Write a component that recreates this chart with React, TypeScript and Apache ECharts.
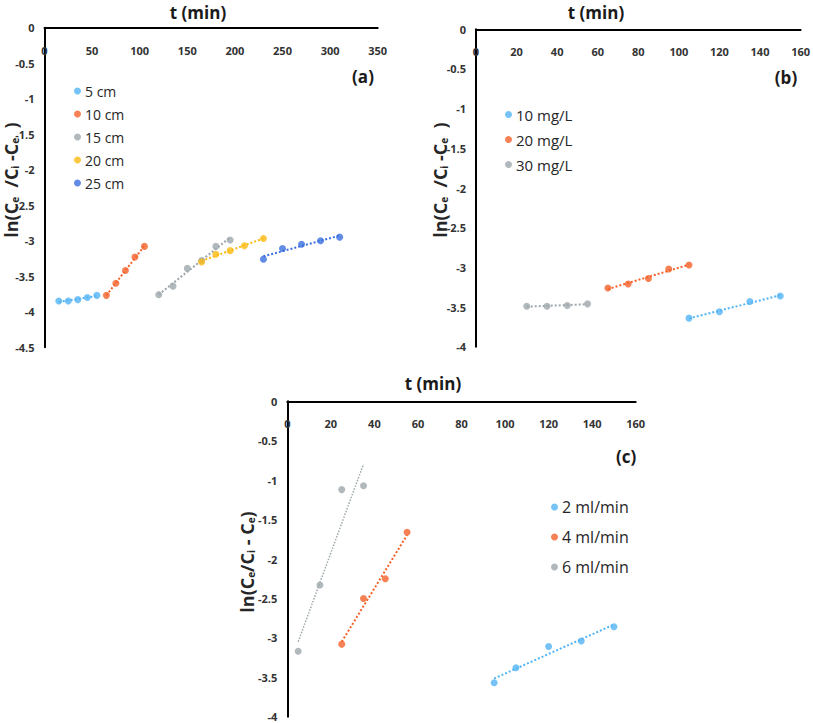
import React, { useEffect, useRef } from "react";
import * as echarts from "echarts";

// ---------- data ----------
// Panel (a): bed height
const tA5 = [15, 25, 35, 45, 55];
const yA5 = [-3.85, -3.85, -3.83, -3.8, -3.77];
const tA10 = [65, 75, 85, 95, 105];
const yA10 = [-3.77, -3.6, -3.42, -3.23, -3.08];
const tA15 = [120, 135, 150, 165, 180, 195];
const yA15 = [-3.76, -3.64, -3.39, -3.28, -3.08, -2.99];
const tA20 = [165, 180, 195, 210, 230];
const yA20 = [-3.3, -3.19, -3.14, -3.07, -2.97];
const tA25 = [230, 250, 270, 290, 310];
const yA25 = [-3.26, -3.11, -3.05, -3.0, -2.95];
const namesA = ["5 cm", "10 cm", "15 cm", "20 cm", "25 cm"];

// Panel (b): initial concentration
const tB10 = [105, 120, 135, 150];
const yB10 = [-3.64, -3.56, -3.43, -3.36];
const tB20 = [65, 75, 85, 95, 105];
const yB20 = [-3.26, -3.21, -3.14, -3.02, -2.97];
const tB30 = [25, 35, 45, 55];
const yB30 = [-3.49, -3.49, -3.48, -3.46];
const namesB = ["10 mg/L", "20 mg/L", "30 mg/L"];

// Panel (c): flow rate
const tC2 = [95, 105, 120, 135, 150];
const yC2 = [-3.57, -3.38, -3.11, -3.04, -2.86];
const tC4 = [25, 35, 45, 55];
const yC4 = [-3.08, -2.5, -2.25, -1.66];
const tC6 = [5, 15, 25, 35];
const yC6 = [-3.17, -2.33, -1.12, -1.07];
const namesC = ["2 ml/min", "4 ml/min", "6 ml/min"];

const xTitle = "t (min)";
const panelTags = ["(a)", "(b)", "(c)"];

const C_LBLUE = "#52b4f5";
const C_ORANGE = "#f4622a";
const C_GRAY = "#9ea8ad";
const C_YELLOW = "#fdba12";
const C_BLUE = "#3a6fe0";

const FONT = "'Open Sans', sans-serif";

// least-squares linear trendline over the data's own range
function trend(xs: number[], ys: number[]) {
  const n = xs.length;
  const mx = xs.reduce((a, b) => a + b, 0) / n;
  const my = ys.reduce((a, b) => a + b, 0) / n;
  let sxy = 0;
  let sxx = 0;
  for (let i = 0; i < n; i++) {
    sxy += (xs[i] - mx) * (ys[i] - my);
    sxx += (xs[i] - mx) * (xs[i] - mx);
  }
  const k = sxy / sxx;
  const x0 = Math.min(...xs);
  const x1 = Math.max(...xs);
  return [
    [x0, my + k * (x0 - mx)],
    [x1, my + k * (x1 - mx)],
  ];
}

function pts(xs: number[], ys: number[]) {
  return xs.map((x, i) => [x, ys[i]]);
}

function pair(idx: number, name: string, xs: number[], ys: number[], color: string, lineWidth = 2) {
  return [
    {
      type: "line",
      name: "trend-" + name,
      xAxisIndex: idx,
      yAxisIndex: idx,
      data: trend(xs, ys),
      showSymbol: false,
      symbol: "none",
      silent: true,
      z: 2,
      lineStyle: { color, width: lineWidth, type: "dotted" },
    },
    {
      type: "scatter",
      name,
      xAxisIndex: idx,
      yAxisIndex: idx,
      data: pts(xs, ys),
      symbol: "circle",
      symbolSize: 7,
      z: 3,
      itemStyle: { color },
    },
  ];
}

const richName = {
  m: { fontSize: 18, fontWeight: "bold", fontFamily: FONT, fill: "#262626", color: "#262626" },
  s: {
    fontSize: 10,
    fontWeight: "bold",
    fontFamily: FONT,
    fill: "#262626",
    color: "#262626",
    verticalAlign: "bottom",
  },
};

const axisLabelStyle = { fontSize: 11, fontWeight: "bold", fontFamily: FONT, color: "#333" };

function xAxis(gridIndex: number, max: number, interval: number) {
  return {
    type: "value",
    gridIndex,
    min: 0,
    max,
    interval,
    position: "top",
    axisLine: { show: true, onZero: false, lineStyle: { color: "#000", width: 2 } },
    axisTick: { show: false },
    splitLine: { show: false },
    axisLabel: { ...axisLabelStyle, inside: true, margin: 17 },
  };
}

function yAxis(gridIndex: number, min: number) {
  return {
    type: "value",
    gridIndex,
    min,
    max: 0,
    interval: 0.5,
    position: "left",
    axisLine: { show: true, onZero: false, lineStyle: { color: "#000", width: 2 } },
    axisTick: { show: false },
    splitLine: { show: false },
    axisLabel: { ...axisLabelStyle, margin: 10 },
  };
}

function legend(data: string[], left: number, top: number, gap: number, fontSize: number) {
  return {
    data: data.map((n) => ({ name: n, icon: "circle" })),
    orient: "vertical",
    left,
    top,
    itemGap: gap,
    itemWidth: 7,
    itemHeight: 7,
    selectedMode: false,
    padding: 0,
    textStyle: { fontSize, fontFamily: FONT, color: "#262626", padding: [0, 0, 0, -1] },
  };
}

function label(text: string, x: number, y: number, size = 17) {
  return {
    type: "text",
    x,
    y,
    silent: true,
    style: {
      text,
      fill: "#1a1a1a",
      font: `bold ${size}px ${FONT}`,
      align: "center",
      verticalAlign: "middle",
    },
  };
}

function yTitle(text: string, x: number, y: number) {
  return {
    type: "text",
    x,
    y,
    rotation: Math.PI / 2,
    silent: true,
    style: {
      text,
      rich: richName,
      fill: "#262626",
      align: "center",
      verticalAlign: "middle",
    },
  };
}

export default function App() {
  const ref = useRef<HTMLDivElement>(null);

  useEffect(() => {
    if (!ref.current) return;
    const chart = echarts.init(ref.current, undefined, { renderer: "svg" });

    const option = {
      animation: false,
      backgroundColor: "#ffffff",
      grid: [
        { left: 44.5, top: 27.7, width: 333.2, height: 319.5 },
        { left: 476, top: 29.3, width: 327.3, height: 317.4 },
        { left: 287.3, top: 401.3, width: 348.4, height: 315.4 },
      ],
      xAxis: [xAxis(0, 350, 50), xAxis(1, 160, 20), xAxis(2, 160, 20)],
      yAxis: [yAxis(0, -4.5), yAxis(1, -4), yAxis(2, -4)],
      legend: [
        legend(namesA, 74, 84, 9, 14),
        legend(namesB, 505, 107, 10, 15),
        legend(namesC, 551, 499, 14, 16),
      ],
      graphic: [
        label(xTitle, 198, 12),
        label(xTitle, 596, 12),
        label(xTitle, 433, 383),
        label(panelTags[0], 363, 76),
        label(panelTags[1], 786, 77),
        label(panelTags[2], 626, 456),
        yTitle("{m|ln(C}{s|e}{m|  /C}{s|i}{m| -C}{s|e}{m|  )}", 11, 180),
        yTitle("{m|ln(C}{s|e}{m|  /C}{s|i}{m| -C}{s|e}{m|  )}", 440, 180),
        yTitle("{m|ln(C}{s|e}{m|/C}{s|i}{m| - C}{s|e}{m|)}", 247, 562),
      ],
      series: [
        ...pair(0, namesA[0], tA5, yA5, C_LBLUE),
        ...pair(0, namesA[1], tA10, yA10, C_ORANGE),
        ...pair(0, namesA[2], tA15, yA15, C_GRAY),
        ...pair(0, namesA[3], tA20, yA20, C_YELLOW),
        ...pair(0, namesA[4], tA25, yA25, C_BLUE),
        ...pair(1, namesB[0], tB10, yB10, C_LBLUE),
        ...pair(1, namesB[1], tB20, yB20, C_ORANGE),
        ...pair(1, namesB[2], tB30, yB30, C_GRAY),
        ...pair(2, namesC[0], tC2, yC2, C_LBLUE),
        ...pair(2, namesC[1], tC4, yC4, C_ORANGE),
        ...pair(2, namesC[2], tC6, yC6, C_GRAY, 1.5),
      ],
    };

    chart.setOption(option as any);
    return () => chart.dispose();
  }, []);

  return (
    <div
      ref={ref}
      style={{ position: "fixed", left: 0, top: 0, width: 813, height: 723, background: "#fff" }}
    />
  );
}
